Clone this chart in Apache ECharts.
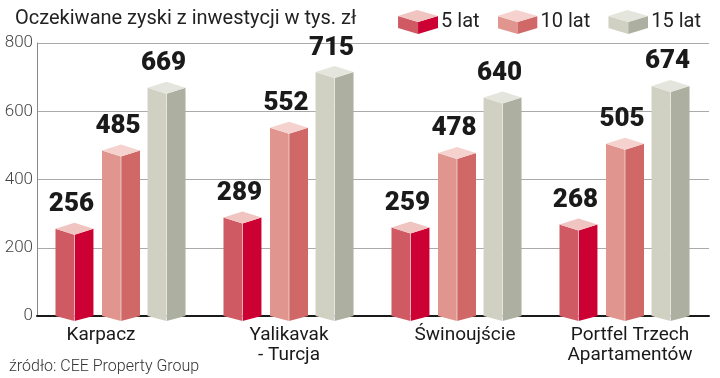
<!DOCTYPE html>
<html>
<head>
<meta charset="utf-8">
<script src="https://cdn.jsdelivr.net/npm/echarts@6/dist/echarts.min.js"></script>
<style>
  html, body { margin: 0; padding: 0; background: #fff; }
  #chart { width: 720px; height: 378px; }
</style>
</head>
<body>
<div id="chart"></div>
<script>
// values (thousand zł)
const categories = ['Karpacz', 'Yalikavak\n- Turcja', 'Świnoujście', 'Portfel Trzech\nApartamentów'];
const periods = ['5 lat', '10 lat', '15 lat'];
const years5 = [256, 289, 259, 268];
const years10 = [485, 552, 478, 505];
const years15 = [669, 715, 640, 674];

// left face, right face, top face
const FACES = [
  ['#cf5a63', '#cc0033', '#f0c4c0'],
  ['#e0968f', '#cf6866', '#f5d2cd'],
  ['#d0d1c3', '#adb0a1', '#e4e5dc'],
];
// bar centre offset inside a category band, as a share of the band
const OFFSETS = [-0.277, 0, 0.271];
const BAR_SHARE = 0.226;
const LABEL_SHIFT = [20, 0, -8, -5];

const cubeIcon = (c) => {
  const svg =
    '<svg xmlns="http://www.w3.org/2000/svg" width="40" height="24" viewBox="0 0 40 24">' +
    `<polygon points="0,6 20,12 20,24 0,18" fill="${c[0]}"/>` +
    `<polygon points="20,12 40,6 40,18 20,24" fill="${c[1]}"/>` +
    `<polygon points="0,6 19,0 40,6 20,12" fill="${c[2]}"/>` +
    '</svg>';
  return 'image://data:image/svg+xml;charset=utf-8,' + encodeURIComponent(svg);
};

const renderPrism = (params, api) => {
  const s = params.seriesIndex;
  const [c0, c1, c2] = FACES[s];
  const value = api.value(1);
  const top = api.coord([api.value(0), value]);
  const base = api.coord([api.value(0), 0]);
  const band = api.size([1, 0])[0];
  const cx = top[0] + OFFSETS[s] * band;
  const hw = (BAR_SHARE * band) / 2;
  const x0 = cx - hw;
  const x1 = cx + hw;
  const yt = top[1];
  const yb = base[1];
  const d = 6;
  return {
    type: 'group',
    children: [
      { type: 'polygon', shape: { points: [[x0, yt], [cx, yt + d], [cx, yb + 5], [x0, yb]] }, style: { fill: c0 } },
      { type: 'polygon', shape: { points: [[cx, yt + d], [x1, yt], [x1, yb], [cx, yb + 5]] }, style: { fill: c1 } },
      { type: 'polygon', shape: { points: [[x0, yt], [cx, yt - d], [x1, yt], [cx, yt + d]] }, style: { fill: c2 } },
      { type: 'line', shape: { x1: cx, y1: yt + d, x2: cx, y2: yb + 5 }, style: { stroke: 'rgba(255,255,255,0.55)', lineWidth: 1 } },
      {
        type: 'text',
        style: {
          text: String(value),
          x: cx - 3,
          y: yt - 11,
          align: 'center',
          verticalAlign: 'bottom',
          fontFamily: 'Roboto',
          fontWeight: 900,
          fontSize: 26,
          fill: '#1a1a1a',
        },
      },
    ],
  };
};

const seriesData = [years5, years10, years15];

const chart = echarts.init(document.getElementById('chart'));
chart.setOption({
  animation: false,
  textStyle: { fontFamily: 'Roboto' },
  title: [
    {
      text: 'Oczekiwane zyski z inwestycji w tys. zł',
      left: 10,
      top: 4,
      textStyle: { fontSize: 20, fontWeight: 'normal', color: '#222' },
    },
    {
      text: 'źródło: CEE Property Group',
      left: 4,
      top: 354,
      textStyle: { fontSize: 16, fontWeight: 300, color: '#333' },
    },
  ],
  legend: {
    right: 14,
    top: 5,
    itemWidth: 40,
    itemHeight: 24,
    itemGap: 18,
    textStyle: { fontSize: 20, color: '#222', padding: [0, 0, 0, -2] },
    data: periods.map((p, i) => ({ name: p, icon: cubeIcon(FACES[i]) })),
  },
  grid: { left: 37, right: 11, top: 43, bottom: 62 },
  xAxis: {
    type: 'category',
    data: categories.map((c, i) => ({
      value: c,
      textStyle: { padding: LABEL_SHIFT[i] > 0 ? [0, LABEL_SHIFT[i] * 2, 0, 0] : [0, 0, 0, -LABEL_SHIFT[i] * 2] },
    })),
    axisLine: { lineStyle: { color: '#1a1a1a', width: 2 } },
    axisTick: { show: false },
    axisLabel: { fontSize: 19, color: '#1a1a1a', margin: 9, lineHeight: 20, interval: 0 },
  },
  yAxis: {
    type: 'value',
    min: 0,
    max: 800,
    interval: 200,
    axisLine: { show: true, lineStyle: { color: '#888', width: 1 } },
    axisTick: { show: false },
    axisLabel: { fontSize: 17, fontWeight: 300, color: '#444', margin: 4 },
    splitLine: { lineStyle: { color: '#aaa', width: 1 } },
  },
  series: periods.map((p, i) => ({
    name: p,
    type: 'custom',
    renderItem: renderPrism,
    encode: { x: 0, y: 1 },
    itemStyle: { color: FACES[i][1] },
    data: seriesData[i].map((v, j) => [j, v]),
  })),
});
</script>
</body>
</html>
